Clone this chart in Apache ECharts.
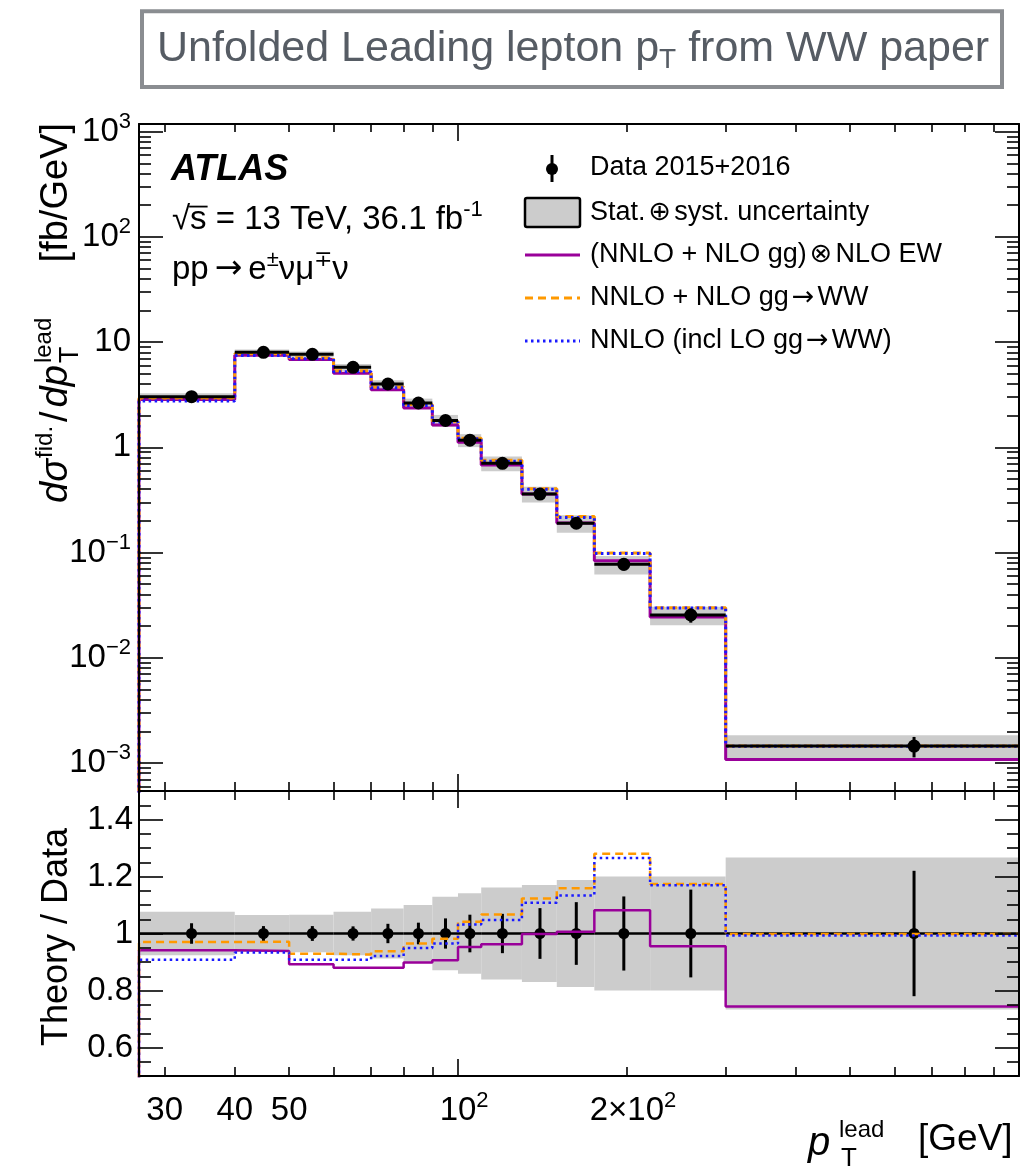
<!DOCTYPE html>
<html><head><meta charset="utf-8">
<script src="https://cdn.jsdelivr.net/npm/echarts@6.0.0/dist/echarts.min.js"></script>
<style>html,body{margin:0;padding:0;background:#fff}#c{width:1034px;height:1169px}</style>
</head><body><div id="c"></div>
<script>
// ---------------- data ----------------
const binEdges   = [27, 40, 50, 60, 70, 80, 90, 100, 110, 130, 150, 175, 220, 300, 1000];
const pointX     = [33.5, 45, 55, 65, 75, 85, 95, 105, 120, 140, 162.5, 197.5, 260, 650];
const dataXsec   = [3.03, 8.0, 7.66, 5.76, 4.0, 2.64, 1.80, 1.17, 0.705, 0.360, 0.190, 0.0773, 0.0255, 0.00145];
const statUnc    = [0.036, 0.026, 0.026, 0.025, 0.034, 0.038, 0.053, 0.066, 0.069, 0.089, 0.110, 0.130, 0.154, 0.220];
const totUnc     = [0.076, 0.065, 0.066, 0.076, 0.088, 0.100, 0.129, 0.141, 0.161, 0.170, 0.188, 0.200, 0.200, 0.267];
const ratioEW    = [0.941, 0.939, 0.892, 0.880, 0.880, 0.898, 0.906, 0.953, 0.962, 0.998, 1.006, 1.082, 0.955, 0.744];
const ratioNLOgg = [0.970, 0.971, 0.929, 0.926, 0.938, 0.965, 0.982, 1.041, 1.067, 1.123, 1.159, 1.280, 1.174, 0.998];
const ratioNNLO  = [0.908, 0.933, 0.908, 0.908, 0.921, 0.949, 0.965, 1.032, 1.047, 1.108, 1.133, 1.265, 1.169, 0.993];

// tick labels
const xMinorTicks = [30, 40, 50, 60, 70, 80, 90, 200, 300, 400, 500, 600, 700, 800, 900];
const xMajorTicks = [100, 1000];
const xLabelValues = [30, 40, 50, 100, 200];
const xLabelBase   = ['30', '40', '50', '10', '2×10'];
const xLabelSup    = ['', '', '', '2', '2'];
const yMajorExp    = [-3, -2, -1, 0, 1, 2, 3];
const yMinorMult   = [2, 3, 4, 5, 6, 7, 8, 9];
const ratioMajor   = [0.6, 0.8, 1.0, 1.2, 1.4];
const ratioLabels  = ['0.6', '0.8', '1', '1.2', '1.4'];
const ratioMinor   = [0.5, 0.55, 0.65, 0.7, 0.75, 0.85, 0.9, 0.95, 1.05, 1.1, 1.15, 1.25, 1.3, 1.35, 1.45, 1.5];

// ---------------- setup ----------------
const FONT = '"Liberation Sans", Arial, Helvetica, sans-serif';
const SYM = '"DejaVu Sans", sans-serif';
const L = Math.log10;
const XMIN = 27, XMAX = 1000, YMIN = 5.42e-4, YMAX = 1183, RMIN = 0.5, RMAX = 1.5;
const PURPLE = '#990099', ORANGE = '#ff9900', BLUE = '#1a1aff', GREY = '#cccccc';
const LABF = 33;

const yMinorVals = [];
for (let e = -4; e <= 3; e++) for (const m of yMinorMult) {
  const v = m * Math.pow(10, e);
  if (v > YMIN && v < YMAX) yMinorVals.push(L(v));
}

function tickAxis(o) {
  return {
    type: 'value', gridIndex: o.grid, position: o.pos, min: o.min, max: o.max,
    axisLine: { show: !!o.line, onZero: false, lineStyle: { color: '#000', width: 2 } },
    axisTick: { show: true, inside: true, length: o.len, customValues: o.ticks, lineStyle: { color: '#000', width: 1.6 } },
    axisLabel: o.label ? Object.assign({ show: true, hideOverlap: false, color: '#000', fontFamily: FONT }, o.label) : { show: false },
    splitLine: { show: false }, splitArea: { show: false }, silent: true, z: 10
  };
}
const XA = { min: L(XMIN), max: L(XMAX) };
const YA = { min: L(YMIN), max: L(YMAX) };
const RA = { min: RMIN, max: RMAX };
const xMinor = xMinorTicks.map(L), xMajor = xMajorTicks.map(L);

const xLabel = {
  customValues: xLabelValues.map(L), margin: 14,
  formatter: v => {
    let i = 0; for (let k = 0; k < xLabelValues.length; k++) if (Math.abs(L(xLabelValues[k]) - v) < 1e-6) i = k;
    return xLabelSup[i] ? '{sp|' + xLabelSup[i] + '}{b|' + xLabelBase[i] + '}{s|' + xLabelSup[i] + '}' : '{b|' + xLabelBase[i] + '}';
  },
  rich: {
    b: { fontSize: LABF, lineHeight: 42, fontFamily: FONT, color: '#000' },
    s: { fontSize: 22, lineHeight: 26, verticalAlign: 'top', fontFamily: FONT, color: '#000' },
    sp: { fontSize: 22, fontFamily: FONT, color: 'rgba(0,0,0,0)' }
  }
};
const yLabel = {
  customValues: yMajorExp, margin: 8,
  formatter: v => {
    const e = Math.round(v);
    if (e === 0) return '{b|1}';
    if (e === 1) return '{b|10}';
    return '{b|10}{s|' + (e < 0 ? '−' + (-e) : e) + '}';
  },
  rich: {
    b: { fontSize: LABF, lineHeight: 42, fontFamily: FONT, color: '#000' },
    s: { fontSize: 22, lineHeight: 26, verticalAlign: 'top', fontFamily: FONT, color: '#000' }
  }
};
const rLabel = {
  customValues: ratioMajor, margin: 6, fontSize: LABF,
  formatter: v => { let i = 0; for (let k = 0; k < ratioMajor.length; k++) if (Math.abs(ratioMajor[k] - v) < 1e-6) i = k; return ratioLabels[i]; }
};

const xAxis = [
  { type: 'log', gridIndex: 0, min: XMIN, max: XMAX, show: false },
  { type: 'log', gridIndex: 1, min: XMIN, max: XMAX, show: false },
  tickAxis(Object.assign({ grid: 0, pos: 'bottom', ticks: xMinor, len: 9, line: true }, XA)),
  tickAxis(Object.assign({ grid: 0, pos: 'bottom', ticks: xMajor, len: 17 }, XA)),
  tickAxis(Object.assign({ grid: 0, pos: 'top', ticks: xMinor, len: 8, line: true }, XA)),
  tickAxis(Object.assign({ grid: 0, pos: 'top', ticks: xMajor, len: 17 }, XA)),
  tickAxis(Object.assign({ grid: 1, pos: 'bottom', ticks: xMinor, len: 9, line: true, label: xLabel }, XA)),
  tickAxis(Object.assign({ grid: 1, pos: 'bottom', ticks: xMajor, len: 17 }, XA)),
  tickAxis(Object.assign({ grid: 1, pos: 'top', ticks: xMinor, len: 9, line: true }, XA)),
  tickAxis(Object.assign({ grid: 1, pos: 'top', ticks: xMajor, len: 17 }, XA))
];
const yAxis = [
  { type: 'log', gridIndex: 0, min: YMIN, max: YMAX, show: false },
  { type: 'value', gridIndex: 1, min: RMIN, max: RMAX, show: false },
  tickAxis(Object.assign({ grid: 0, pos: 'left', ticks: yMinorVals, len: 12, line: true }, YA)),
  tickAxis(Object.assign({ grid: 0, pos: 'left', ticks: yMajorExp, len: 24, label: yLabel }, YA)),
  tickAxis(Object.assign({ grid: 0, pos: 'right', ticks: yMinorVals, len: 12, line: true }, YA)),
  tickAxis(Object.assign({ grid: 0, pos: 'right', ticks: yMajorExp, len: 24 }, YA)),
  tickAxis(Object.assign({ grid: 1, pos: 'left', ticks: ratioMinor, len: 12, line: true }, RA)),
  tickAxis(Object.assign({ grid: 1, pos: 'left', ticks: ratioMajor, len: 24, label: rLabel }, RA)),
  tickAxis(Object.assign({ grid: 1, pos: 'right', ticks: ratioMinor, len: 12, line: true }, RA)),
  tickAxis(Object.assign({ grid: 1, pos: 'right', ticks: ratioMajor, len: 24 }, RA))
];

// ---------------- series ----------------
function bandSeries(xi, yi, rows) {
  return {
    type: 'custom', xAxisIndex: xi, yAxisIndex: yi, z: 1, silent: true, clip: true,
    data: rows, encode: { x: [0, 1], y: [2, 3] },
    renderItem: (p, api) => {
      const a = api.coord([api.value(0), api.value(3)]);
      const b = api.coord([api.value(1), api.value(2)]);
      return { type: 'rect', shape: { x: a[0], y: a[1], width: b[0] - a[0], height: b[1] - a[1] }, style: { fill: GREY } };
    }
  };
}
function dataSegSeries(xi, yi, rows, lw, ew, z) {
  // rows: [lo, hi, centre, value, errLo, errHi]
  return {
    type: 'custom', xAxisIndex: xi, yAxisIndex: yi, z: z, silent: true, clip: true,
    data: rows, encode: { x: [0, 1, 2], y: [3, 4, 5] },
    renderItem: (p, api) => {
      const a = api.coord([api.value(0), api.value(3)]);
      const b = api.coord([api.value(1), api.value(3)]);
      const c = api.coord([api.value(2), api.value(4)]);
      const d = api.coord([api.value(2), api.value(5)]);
      return { type: 'group', children: [
        { type: 'line', shape: { x1: a[0], y1: a[1], x2: b[0], y2: b[1] }, style: { stroke: '#000', lineWidth: lw } },
        { type: 'line', shape: { x1: c[0], y1: c[1], x2: d[0], y2: d[1] }, style: { stroke: '#000', lineWidth: ew } }
      ] };
    }
  };
}
function histLine(vals, floor, color, width, type, xi, yi, z) {
  const d = [[binEdges[0], floor]];
  vals.forEach((v, i) => d.push([binEdges[i + 1], v]));
  return { type: 'line', xAxisIndex: xi, yAxisIndex: yi, data: d, step: 'start', symbol: 'none', showSymbol: false,
    lineStyle: { color: color, width: width, type: type }, z: z, silent: true, clip: true };
}
function dots(xi, yi, pts, size, z) {
  return { type: 'scatter', xAxisIndex: xi, yAxisIndex: yi, data: pts, symbol: 'circle', symbolSize: size,
    itemStyle: { color: '#000', opacity: 1 }, z: z, silent: true, clip: true };
}

const lows = binEdges.slice(0, -1), highs = binEdges.slice(1);
const upperBand = lows.map((lo, i) => [lo, highs[i], dataXsec[i] * (1 - totUnc[i]), dataXsec[i] * (1 + totUnc[i])]);
const ratioBand = lows.map((lo, i) => [lo, highs[i], 1 - totUnc[i], 1 + totUnc[i]]);
const upperData = lows.map((lo, i) => [lo, highs[i], pointX[i], dataXsec[i], dataXsec[i] * (1 - statUnc[i]), dataXsec[i] * (1 + statUnc[i])]);
const ratioData = lows.map((lo, i) => [lo, highs[i], pointX[i], 1, 1 - statUnc[i], 1 + statUnc[i]]);

const series = [
  bandSeries(0, 0, upperBand),
  histLine(dataXsec.map((v, i) => v * ratioEW[i]), 1e-5, PURPLE, 3, 'solid', 0, 0, 3),
  histLine(dataXsec.map((v, i) => v * ratioNLOgg[i]), 1e-5, ORANGE, 3, [8, 5], 0, 0, 4),
  histLine(dataXsec.map((v, i) => v * ratioNNLO[i]), 1e-5, BLUE, 3, [2.5, 3.5], 0, 0, 5),
  dataSegSeries(0, 0, upperData, 3, 3, 6),
  dots(0, 0, pointX.map((x, i) => [x, dataXsec[i]]), 13, 7),

  bandSeries(1, 1, ratioBand),
  dataSegSeries(1, 1, ratioData, 2.5, 3, 2),
  dots(1, 1, pointX.map(x => [x, 1]), 11, 3),
  histLine(ratioEW, 0.3, PURPLE, 2.5, 'solid', 1, 1, 4),
  histLine(ratioNLOgg, 0.3, ORANGE, 2.5, [8, 5], 1, 1, 5),
  histLine(ratioNNLO, 0.3, BLUE, 2.5, [2.5, 3.5], 1, 1, 6)
];

// ---------------- texts / legend ----------------
const ctx = document.createElement('canvas').getContext('2d');
function tw(font, s) { ctx.font = font; return ctx.measureText(s).width; }
function T(x, baseline, text, size, extra) {
  return Object.assign({ type: 'text', x: x, y: baseline - 0.35 * size, silent: true,
    style: Object.assign({ text: text, fontSize: size, fontFamily: FONT, fill: '#000', align: 'left', verticalAlign: 'middle' }, (extra && extra.style) || {}) },
    extra && extra.rotation ? { rotation: extra.rotation } : {});
}
function RT(bx, ystart, text, size, extra) { // rotated text, baseline at screen x = bx, starting at screen y = ystart
  const e = T(0, 0, text, size, { style: Object.assign({ align: 'left' }, (extra && extra.style) || {}) });
  e.x = bx - 0.35 * size; e.y = ystart; e.rotation = Math.PI / 2;
  return e;
}
function richT(x, baseline, text, size, supSize, extraRich) {
  const rich = Object.assign({
    a: { fontSize: size, lineHeight: Math.round(size * 1.25), fontFamily: FONT, fill: '#000' },
    s: { fontSize: supSize, lineHeight: Math.round(supSize * 1.15), verticalAlign: 'top', fontFamily: FONT, fill: '#000' },
    ar: { fontSize: size, lineHeight: Math.round(size * 1.25), fontFamily: SYM, fill: '#000', padding: [0, 3, 0, 3] }
  }, extraRich || {});
  return { type: 'text', x: x, y: baseline - 0.35 * size, silent: true,
    style: { text: text, align: 'left', verticalAlign: 'middle', rich: rich } };
}

const g = [];
// title box
g.push({ type: 'rect', shape: { x: 142, y: 11.3, width: 860, height: 75.7 }, style: { fill: '#fff', stroke: '#8a8d91', lineWidth: 4 }, silent: true });
g.push({ type: 'text', x: 157, y: 49, silent: true, style: {
  text: '{a|Unfolded Leading lepton p}{s|T}{a| from WW paper}', align: 'left', verticalAlign: 'middle',
  rich: { a: { fontSize: 43, lineHeight: 50, fontFamily: FONT, fill: '#565c64' },
          s: { fontSize: 28, lineHeight: 28, verticalAlign: 'bottom', fontFamily: FONT, fill: '#565c64' } } } });

// ATLAS labels
const TF = 33;
g.push(T(171, 183, 'ATLAS', 36, { style: { fontWeight: 'bold', fontStyle: 'italic' } }));
g.push(richT(172, 231, '{a|√s = 13 TeV, 36.1 fb}{s|-1}', TF, 22));
const sqW = tw(TF + 'px ' + FONT, '√'), sW = tw(TF + 'px ' + FONT, 's');
g.push({ type: 'line', shape: { x1: 172 + sqW - 1, y1: 231 - 0.74 * TF, x2: 172 + sqW + sW + 1, y2: 231 - 0.74 * TF }, style: { stroke: '#000', lineWidth: 1.8 }, silent: true });
g.push(richT(172, 281, '{a|pp}{ar|→}{a|e}{s|±}{a|νμ}{s|∓}{a|ν}', TF, 22, { ar: { fontSize: TF, lineHeight: 41, fontFamily: SYM, fill: '#000', padding: [0, 6, 0, 6] } }));

// legend
const LX = 525, LW = 55, LT = 590, LF = 27;
g.push({ type: 'line', shape: { x1: 552, y1: 155, x2: 552, y2: 182 }, style: { stroke: '#000', lineWidth: 3 }, silent: true });
g.push({ type: 'circle', shape: { cx: 552, cy: 169, r: 6 }, style: { fill: '#000' }, silent: true });
g.push(T(LT, 177, 'Data 2015+2016', LF));
g.push({ type: 'rect', shape: { x: LX, y: 198, width: LW, height: 29, r: 2 }, style: { fill: GREY, stroke: '#000', lineWidth: 2.5 }, silent: true });
g.push(richT(LT, 222, '{a|Stat.}{ar|⊕}{a|syst. uncertainty}', LF, 18));
g.push({ type: 'line', shape: { x1: LX, y1: 255, x2: LX + LW, y2: 255 }, style: { stroke: PURPLE, lineWidth: 3 }, silent: true });
g.push(richT(LT, 264, '{a|(NNLO + NLO gg)}{ar|⊗}{a|NLO EW}', LF, 18));
g.push({ type: 'line', shape: { x1: LX, y1: 298, x2: LX + LW, y2: 298 }, style: { stroke: ORANGE, lineWidth: 3, lineDash: [8, 5] }, silent: true });
g.push(richT(LT, 307, '{a|NNLO + NLO gg}{ar|→}{a|WW}', LF, 18));
g.push({ type: 'line', shape: { x1: LX, y1: 341, x2: LX + LW, y2: 341 }, style: { stroke: BLUE, lineWidth: 3, lineDash: [2.5, 3.5] }, silent: true });
g.push(richT(LT, 350, '{a|NNLO (incl LO gg}{ar|→}{a|WW)}', LF, 18));

// y-axis title (upper), rotated
const YF = 38, YS = 24, YB = 70;
let u = 503;
const fI = 'italic ' + YF + 'px ' + FONT;
g.push(RT(YB, u, 'dσ', YF, { style: { fontStyle: 'italic' } })); u -= tw(fI, 'dσ') + 1;
g.push(RT(YB - 16, u, 'fid.', YS)); u -= tw(YS + 'px ' + FONT, 'fid.') + 4;
g.push(RT(YB, u, '/', YF)); u -= tw(YF + 'px ' + FONT, '/') + 4;
g.push(RT(YB, u, 'dp', YF, { style: { fontStyle: 'italic' } })); u -= tw(fI, 'dp') + 2;
g.push(RT(YB - 17, u, 'lead', YS));
g.push(RT(YB + 10, u, 'T', 27));
const fbw = tw(YF + 'px ' + FONT, '[fb/GeV]');
g.push(RT(YB, 123 + fbw, '[fb/GeV]', YF));
// ratio title
const RF = 36;
const thw = tw(RF + 'px ' + FONT, 'Theory / Data');
g.push(RT(YB, 937 + thw / 2, 'Theory / Data', RF));

// x-axis title
g.push(T(808, 1158, 'p', 40, { style: { fontStyle: 'italic' } }));
g.push(T(839, 1139, 'lead', 24));
g.push(T(841, 1168, 'T', 26));
g.push(T(918, 1153, '[GeV]', 37));

const chart = echarts.init(document.getElementById('c'), null, { renderer: 'canvas' });
chart.setOption({
  animation: false,
  backgroundColor: '#fff',
  textStyle: { fontFamily: FONT },
  grid: [
    { left: 139, top: 124, width: 880, height: 667, containLabel: false, outerBoundsMode: 'none' },
    { left: 139, top: 791, width: 880, height: 285, containLabel: false, outerBoundsMode: 'none' }
  ],
  xAxis: xAxis, yAxis: yAxis, series: series, graphic: g
});
</script></body></html>
